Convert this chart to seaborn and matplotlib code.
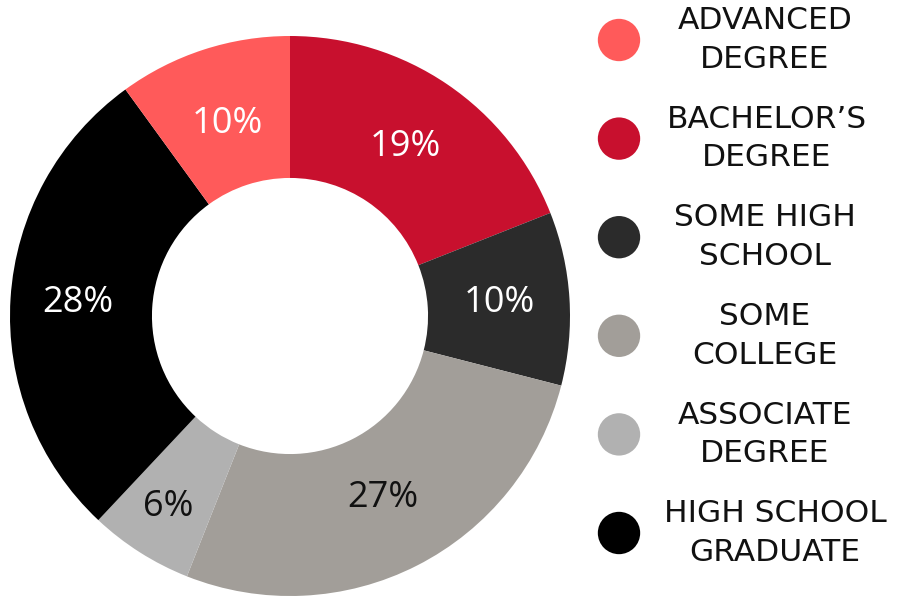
import numpy as np
import matplotlib
matplotlib.use("Agg")
import matplotlib.pyplot as plt
import seaborn as sns
import pandas as pd

sns.set_theme(style="white")
plt.rcParams["font.family"] = ["Open Sans", "DejaVu Sans"]

# Education attainment shares, clockwise from the top
pie_order = ["BACHELOR’S\nDEGREE", "SOME HIGH\nSCHOOL", "SOME\nCOLLEGE",
             "ASSOCIATE\nDEGREE", "HIGH SCHOOL\nGRADUATE", "ADVANCED\nDEGREE"]
pie_values = [19, 10, 27, 6, 28, 10]
pie_colors = ["#C8102E", "#2B2B2B", "#A29E99", "#B1B1B1", "#000000", "#FF5A5A"]
label_colors = ["white", "white", "#111111", "#111111", "white", "white"]
label_radius = [0.73, 0.75, 0.73, 0.81, 0.76, 0.72]

# Legend order
legend_labels = ["ADVANCED\nDEGREE", "BACHELOR’S\nDEGREE", "SOME HIGH\nSCHOOL",
                 "SOME\nCOLLEGE", "ASSOCIATE\nDEGREE", "HIGH SCHOOL\nGRADUATE"]
legend_colors = ["#FF5A5A", "#C8102E", "#2B2B2B", "#A29E99", "#B1B1B1", "#000000"]

W, H = 898, 596
fig = plt.figure(figsize=(W / 100, H / 100), dpi=100)

# Donut
ax = fig.add_axes([10 / W, 0 / H, 560 / W, 560 / H])
wedges, _ = ax.pie(pie_values, colors=pie_colors, startangle=90, counterclock=False,
                   radius=1.0, wedgeprops=dict(width=0.507, linewidth=0))
for w, v, c, r in zip(wedges, pie_values, label_colors, label_radius):
    mid = np.deg2rad((w.theta1 + w.theta2) / 2)
    ax.text(r * np.cos(mid), r * np.sin(mid), f"{v}%", ha="center", va="center",
            color=c, fontsize=26)
ax.set_xlim(-1, 1)
ax.set_ylim(-1, 1)
ax.set_aspect("equal")
ax.axis("off")

# Legend panel in pixel-like coordinates
lax = fig.add_axes([580 / W, 0, 318 / W, 1])
lax.set_xlim(580, 898)
lax.set_ylim(596, 0)
lax.axis("off")
ys = 40 + np.arange(len(legend_labels)) * 98.6
text_x = [765, 767, 765, 765, 765, 775]
df = pd.DataFrame({"x": 619, "y": ys, "label": legend_labels})
sns.scatterplot(data=df, x="x", y="y", hue="label", palette=legend_colors,
                s=930, linewidth=0, legend=False, ax=lax)
for x, y, lab in zip(text_x, ys, legend_labels):
    lax.text(x, y, lab, ha="center", va="center", fontsize=22.5,
             color="#111111", linespacing=1.42,
             family=["DejaVu Sans"])
lax.axis("off")

fig.savefig("out.png", dpi=100)
